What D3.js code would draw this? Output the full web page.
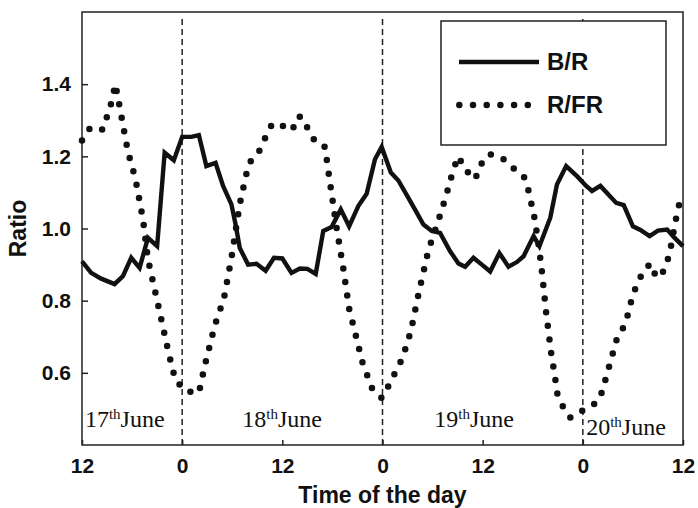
<!DOCTYPE html>
<html>
<head>
<meta charset="utf-8">
<script src="https://cdn.jsdelivr.net/npm/d3@7"></script>
<style>
    body { margin: 0; background: #fff; }
    svg { display: block; font-family: "Liberation Sans", Arial, sans-serif; }
    .axis path, .axis line { stroke: #222; stroke-width: 1.5; }
    .axis text { font-size: 21px; font-weight: bold; fill: #111; }
    .day { font-family: "Liberation Serif", "Times New Roman", serif; font-size: 24px; fill: #111; }
</style>
</head>
<body>
<svg id="chart"></svg>
<script>
// hours since noon of 17 June
const br_hours = [0,1.1,2.3,3.9,4.9,5.9,6.9,7.9,9.0,9.9,11.0,12.0,13.1,14.0,14.9,16.0,16.9,17.9,18.4,18.9,19.9,20.9,22.0,23.0,24.0,25.1,26.1,27.0,28.0,28.9,29.9,31.0,32.0,33.1,34.1,35.1,35.9,37.0,37.9,39.1,40.0,40.9,41.9,42.9,44.1,45.1,45.9,46.9,47.9,48.9,50.0,51.1,52.1,52.9,54.1,54.8,56.1,56.9,58.0,59.3,60.4,61.1,62.1,64.0,64.9,66.0,66.9,68.0,69.0,70.1,71.0,72.0];
const br_values = [0.909,0.877,0.861,0.846,0.868,0.919,0.891,0.974,0.951,1.210,1.189,1.254,1.254,1.259,1.173,1.182,1.118,1.067,1.011,0.946,0.900,0.902,0.883,0.919,0.917,0.877,0.889,0.888,0.874,0.993,1.004,1.053,1.006,1.062,1.096,1.192,1.226,1.155,1.133,1.085,1.048,1.011,0.993,0.988,0.937,0.903,0.894,0.919,0.900,0.881,0.932,0.894,0.907,0.923,0.979,0.951,1.030,1.122,1.173,1.145,1.118,1.104,1.118,1.071,1.065,1.006,0.996,0.979,0.994,0.997,0.974,0.951];

const rfr_hours = [0.0,1.0,2.5,3.5,4.0,4.6,5.5,6.4,7.3,7.9,9.0,9.7,10.4,11.2,12.5,14.0,14.7,15.9,17.0,17.9,18.9,19.6,20.0,21.3,22.0,22.8,24.0,25.2,25.8,26.3,27.1,28.0,29.1,29.8,30.5,31.3,32.0,32.8,33.6,34.8,35.9,36.8,38.4,39.4,40.4,41.5,42.6,43.6,44.5,45.1,45.9,47.1,47.7,48.8,50.3,51.6,53.0,53.5,54.2,54.7,55.1,55.6,56.2,56.7,56.9,57.5,58.5,60.1,61.7,62.3,63.2,64.1,65.1,65.9,66.5,67.3,68.1,68.8,69.4,70.1,70.5,71.1,71.8];
const rfr_values = [1.244,1.280,1.274,1.347,1.400,1.326,1.213,1.138,1.026,0.915,0.801,0.727,0.653,0.579,0.549,0.544,0.619,0.731,0.806,0.918,1.067,1.142,1.180,1.217,1.254,1.291,1.285,1.272,1.310,1.310,1.275,1.238,1.226,1.113,1.002,0.890,0.778,0.704,0.629,0.554,0.530,0.567,0.641,0.716,0.828,0.940,1.015,1.089,1.164,1.200,1.163,1.136,1.175,1.206,1.196,1.169,1.141,1.104,1.030,0.956,0.880,0.768,0.656,0.583,0.545,0.511,0.476,0.497,0.518,0.547,0.622,0.696,0.735,0.808,0.847,0.883,0.903,0.865,0.869,0.907,0.944,1.020,1.094];

const x_ticks = [0, 12, 24, 36, 48, 60, 72];
const x_tick_labels = ["12", "0", "12", "0", "12", "0", "12"];
const y_ticks = [0.6, 0.8, 1.0, 1.2, 1.4];
const midnights = [12, 36, 60];

// day annotations: [day number, hour of text start, ratio at baseline]
const day_labels = [["17", 0.35, 0.45], ["18", 19.2, 0.45], ["19", 42.2, 0.45], ["20", 60.4, 0.428]];

const margin = {top: 12, right: 15, bottom: 63, left: 82},
    width = 698 - margin.left - margin.right,
    height = 508 - margin.top - margin.bottom;

const svg = d3.select("#chart")
    .attr("width", 698)
    .attr("height", 508)
    .append("g")
    .attr("transform", "translate(" + margin.left + "," + margin.top + ")");

const xScale = d3.scaleLinear().domain([0, 72]).range([0, width]);
const yScale = d3.scaleLinear().domain([0.4, 1.6]).range([height, 0]);

// frame
svg.append("rect")
    .attr("width", width)
    .attr("height", height)
    .attr("fill", "none")
    .attr("stroke", "#222")
    .attr("stroke-width", 1.5);

svg.append("g")
    .attr("class", "axis x-axis")
    .attr("transform", "translate(0," + height + ")")
    .call(d3.axisBottom(xScale)
        .tickValues(x_ticks)
        .tickSizeInner(-5)
        .tickSizeOuter(0)
        .tickPadding(13)
        .tickFormat(function (d, i) { return x_tick_labels[i]; }));

svg.append("g")
    .attr("class", "axis y-axis")
    .call(d3.axisLeft(yScale)
        .tickValues(y_ticks)
        .tickSizeInner(-6)
        .tickSizeOuter(0)
        .tickPadding(11)
        .tickFormat(d3.format(".1f")));

svg.selectAll(".domain").remove();

// midnight lines
svg.selectAll(".midnight")
    .data(midnights)
    .enter().append("line")
    .attr("class", "midnight")
    .attr("x1", function (d) { return xScale(d); })
    .attr("x2", function (d) { return xScale(d); })
    .attr("y1", 7)
    .attr("y2", height)
    .attr("stroke", "#222")
    .attr("stroke-width", 1.5)
    .attr("stroke-dasharray", "6,4");

const line = d3.line()
    .x(function (d) { return xScale(d[0]); })
    .y(function (d) { return yScale(d[1]); });

const rfr = d3.zip(rfr_hours, rfr_values);
const br = d3.zip(br_hours, br_values);

svg.append("path")
    .datum(rfr)
    .attr("d", line)
    .attr("fill", "none")
    .attr("stroke", "#111")
    .attr("stroke-width", 6.5)
    .attr("stroke-linecap", "round")
    .attr("stroke-dasharray", "0,13.7");

svg.append("path")
    .datum(br)
    .attr("d", line)
    .attr("fill", "none")
    .attr("stroke", "#111")
    .attr("stroke-width", 4.4)
    .attr("stroke-linejoin", "miter");

// day labels
const days = svg.selectAll(".day")
    .data(day_labels)
    .enter().append("text")
    .attr("class", "day")
    .attr("x", function (d) { return xScale(d[1]); })
    .attr("y", function (d) { return yScale(d[2]); });
days.append("tspan").text(function (d) { return d[0]; });
days.append("tspan").attr("dy", -8).attr("font-size", 15).text("th");
days.append("tspan").attr("dy", 8).text("June");

// legend
const legend = svg.append("g")
    .attr("transform", "translate(" + (441 - margin.left) + "," + (21 - margin.top) + ")");

legend.append("rect")
    .attr("width", 225)
    .attr("height", 124)
    .attr("fill", "#fff")
    .attr("stroke", "#222")
    .attr("stroke-width", 1.5);

legend.append("line")
    .attr("x1", 18).attr("x2", 98)
    .attr("y1", 41).attr("y2", 41)
    .attr("stroke", "#111")
    .attr("stroke-width", 4.5);

legend.append("line")
    .attr("x1", 18.3).attr("x2", 90)
    .attr("y1", 84).attr("y2", 84)
    .attr("stroke", "#111")
    .attr("stroke-width", 6.5)
    .attr("stroke-linecap", "round")
    .attr("stroke-dasharray", "0,13.7");

legend.selectAll(".legend-label")
    .data(["B/R", "R/FR"])
    .enter().append("text")
    .attr("class", "legend-label")
    .attr("x", 106)
    .attr("y", function (d, i) { return i === 0 ? 49 : 92; })
    .attr("font-size", 24)
    .attr("font-weight", "bold")
    .attr("fill", "#111")
    .text(function (d) { return d; });

// axis titles
svg.append("text")
    .attr("x", width / 2)
    .attr("y", height + 58)
    .attr("text-anchor", "middle")
    .attr("font-size", 23)
    .attr("font-weight", "bold")
    .attr("fill", "#111")
    .text("Time of the day");

svg.append("text")
    .attr("transform", "translate(" + (-56) + "," + yScale(1.0) + ") rotate(-90)")
    .attr("text-anchor", "middle")
    .attr("font-size", 23)
    .attr("font-weight", "bold")
    .attr("fill", "#111")
    .text("Ratio");
</script>
</body>
</html>
